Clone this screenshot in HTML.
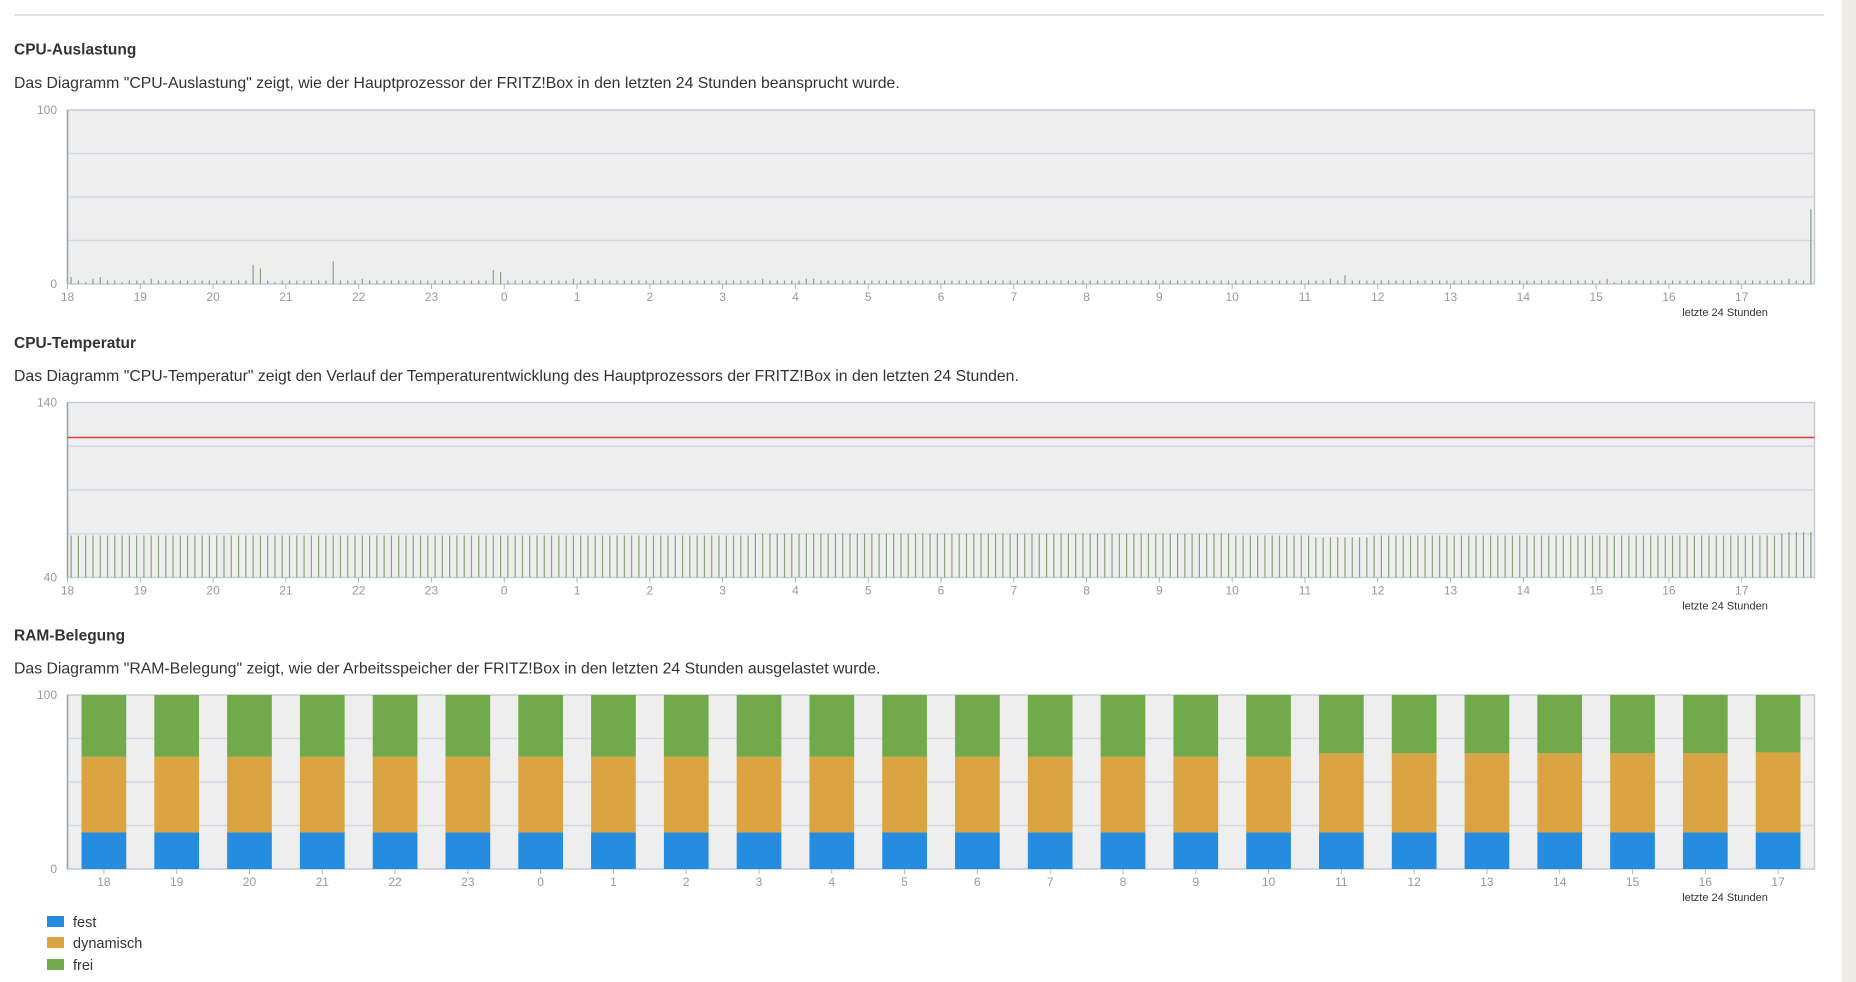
<!DOCTYPE html>
<html><head><meta charset="utf-8">
<style>
html,body{margin:0;padding:0;background:#fff;width:1856px;height:982px;overflow:hidden;font-family:"Liberation Sans",sans-serif;}
svg{position:absolute;left:0;top:0}
</style></head>
<body>
<svg id="s" width="1856" height="982" xmlns="http://www.w3.org/2000/svg"></svg>
<script>
const hours=["18","19","20","21","22","23","0","1","2","3","4","5","6","7","8","9","10","11","12","13","14","15","16","17"];
const cpuValues=[
4,2,1,3,4,2,2,1,2,2, 2,3,2,2,2,2,2,2,2,2, 2,2,2,2,2,11,9,2,1,2, 2,2,2,2,2,2,13,2,2,2,
3,2,2,2,2,2,2,2,2,2, 2,2,2,2,2,2,2,2,8,7, 2,2,2,2,2,2,2,2,2,3, 2,2,3,2,2,2,2,2,2,2,
2,2,2,2,2,2,2,2,2,2, 2,2,2,2,2,3,2,2,2,2, 2,3,3,2,2,2,2,2,2,2, 2,2,2,2,2,2,2,2,2,2,
2,2,2,2,2,2,2,2,2,2, 2,2,2,2,2,2,2,2,2,2, 2,2,2,2,2,2,2,2,2,2, 2,2,2,2,2,2,2,2,2,2,
2,2,2,2,2,2,2,2,2,2, 2,2,2,3,2,5,2,2,2,2, 2,2,2,2,2,2,2,2,2,2, 2,2,2,2,2,2,2,2,2,2,
2,2,2,2,2,2,2,2,2,2, 2,3,1,2,2,2,2,2,2,2, 2,2,2,2,2,2,2,2,2,2, 2,2,2,2,2,2,3,2,2,43];
const tempValues=[
64,64,64,64,64,64,64,64,64,64, 64,64,64,64,64,64,64,64,64,64, 64,64,64,64,64,64,64,64,64,64, 64,64,64,64,64,64,64,64,64,64,
64,64,64,64,64,64,64,64,64,64, 64,64,64,64,64,64,64,64,64,64, 64,64,64,64,64,64,64,64,64,64, 64,64,64,64,64,64,64,64,64,64,
64,64,64,64,64,64,64,64,64,64, 64,64,64,64,65,65,65,65,65,65, 65,65,65,65,65,65,65,65,65,65, 65,65,65,65,65,65,65,65,65,65,
65,65,65,65,65,65,65,65,65,65, 65,65,65,65,65,65,65,65,65,65, 65,65,65,65,65,65,65,65,65,65, 65,65,65,65,65,65,65,65,65,65,
64,64,64,64,64,64,64,64,64,64, 64,63,63,63,63,63,63,63,63,64, 64,64,64,64,64,64,64,64,64,64, 64,64,64,64,64,64,64,64,64,64,
64,64,64,64,64,64,64,64,64,64, 64,64,64,64,64,64,64,64,64,64, 64,64,64,64,64,64,64,64,64,64, 64,64,64,64,64,65,66,66,66,66];
const tempLimit=120;
const ramFest=[21,21,21,21,21,21,21,21,21,21,21,21,21,21,21,21,21,21,21,21,21,21,21,21];
const ramDyn=[43.5,43.5,43.5,43.5,43.5,43.5,43.5,43.5,43.5,43.5,43.5,43.5,43.5,43.5,43.5,43.5,43.5,45.5,45.5,45.5,45.5,45.5,45.5,46];
const ramFrei=[35.5,35.5,35.5,35.5,35.5,35.5,35.5,35.5,35.5,35.5,35.5,35.5,35.5,35.5,35.5,35.5,35.5,33.5,33.5,33.5,33.5,33.5,33.5,33];

const S=document.getElementById('s');const NS="http://www.w3.org/2000/svg";
function mk(t,a,txt){const e=document.createElementNS(NS,t);for(const k in a)e.setAttribute(k,a[k]);if(txt!=null)e.textContent=txt;S.appendChild(e);return e;}
const L=67.5,R=1814.5,W=R-L;

let e=mk('line',{x1:14,y1:15,x2:1824,y2:15,stroke:'#dcdcdc','stroke-width':1.5});


e=mk('rect',{x:1842,y:0,width:14,height:982,fill:'#eeebe6'});



function section(name,title,desc,ty,dy){
  let t=mk('text',{x:14,y:ty+6,'font-size':15.5,'font-weight':'bold',fill:'#333'},title);
  
  
  let d=mk('text',{x:14,y:dy+6,'font-size':15.8,fill:'#333'},desc);
  
  
}
function frame(name,top,bot,ymin,ymax,bandTicks){
  let r=mk('rect',{x:L,y:top,width:W,height:bot-top,fill:'#eeeeee',stroke:'#c5ccd6','stroke-width':1.5});
  
  
  for(let k=1;k<4;k++){const y=top+(bot-top)*k/4;
    let g=mk('line',{x1:L,y1:y,x2:R,y2:y,stroke:'#d3d9e1','stroke-width':1.5});
    
    }
  let a=mk('line',{x1:L,y1:top,x2:L,y2:bot,stroke:'#9aa5b3','stroke-width':1.5});
  
  
  let t1=mk('text',{x:57,y:top+4,'font-size':12,fill:'#999','text-anchor':'end'},String(ymax));
  
  
  let t0=mk('text',{x:57,y:bot+4,'font-size':12,fill:'#999','text-anchor':'end'},String(ymin));
  
  
  const step=W/hours.length;
  hours.forEach((h,i)=>{const x=L+(bandTicks?(i+0.5)*step:i*step);
    let tk=mk('line',{x1:x,y1:bot,x2:x,y2:bot+5,stroke:'#aab3bf','stroke-width':1});
    
    
    let lb=mk('text',{x:x,y:bot+17,'font-size':12,fill:'#999','text-anchor':'middle'},h);
    
    });
  let lt=mk('text',{x:1725,y:bot+32,'font-size':11,fill:'#333','text-anchor':'middle'},'letzte 24 Stunden');
  
  
}
function spikes(name,vals,top,bot,ymin,ymax){
  const sy=v=>bot-(v-ymin)/(ymax-ymin)*(bot-top);
  const st=W/vals.length;
  vals.forEach((v,i)=>{const x=L+(i+0.5)*st;
    let b=mk('line',{x1:x,y1:bot,x2:x,y2:sy(v),stroke:'#8aa37d','stroke-width':1.2});
    
    });
  return sy;
}

section('cpu-load','CPU-Auslastung','Das Diagramm "CPU-Auslastung" zeigt, wie der Hauptprozessor der FRITZ!Box in den letzten 24 Stunden beansprucht wurde.',48.5,82);
frame('cpu-load',110,284,0,100,false);
spikes('cpu-load',cpuValues,110,284,0,100);

section('cpu-temp','CPU-Temperatur','Das Diagramm "CPU-Temperatur" zeigt den Verlauf der Temperaturentwicklung des Hauptprozessors der FRITZ!Box in den letzten 24 Stunden.',342,375);
frame('cpu-temp',402.5,577.5,40,140,false);
const tsy=spikes('cpu-temp',tempValues,402.5,577.5,40,140);
let rl=mk('line',{x1:L,y1:tsy(tempLimit),x2:R,y2:tsy(tempLimit),stroke:'#d9413b','stroke-width':1.5});



section('ram','RAM-Belegung','Das Diagramm "RAM-Belegung" zeigt, wie der Arbeitsspeicher der FRITZ!Box in den letzten 24 Stunden ausgelastet wurde.',634.5,667.5);
const rt=695,rb=869;
frame('ram',rt,rb,0,100,true);
const ry=v=>rb-v/100*(rb-rt);
const bs=W/hours.length,bw=44.7;
hours.forEach((h,i)=>{const x=L+(i+0.5)*bs-bw/2;
  const f=ramFest[i],d=ramDyn[i],fr=ramFrei[i];
  let a=mk('rect',{x:x,y:ry(f),width:bw,height:ry(0)-ry(f),fill:'#268ce0'});
  
  
  let b=mk('rect',{x:x,y:ry(f+d),width:bw,height:ry(f)-ry(f+d),fill:'#d9a441'});
  
  
  let c=mk('rect',{x:x,y:ry(f+d+fr),width:bw,height:ry(f+d)-ry(f+d+fr),fill:'#72aa4b'});
  
  
});
const legNames=['fest','dynamisch','frei'],legCols=['#268ce0','#d9a441','#72aa4b'],legY=[922,943,965];
legNames.forEach((n,i)=>{
  let r=mk('rect',{x:47,y:legY[i]-6,width:17,height:11,fill:legCols[i]});
  
  
  let t=mk('text',{x:73,y:legY[i]+5,'font-size':14.5,fill:'#333'},n);
  
  
});
</script>
</body></html>
